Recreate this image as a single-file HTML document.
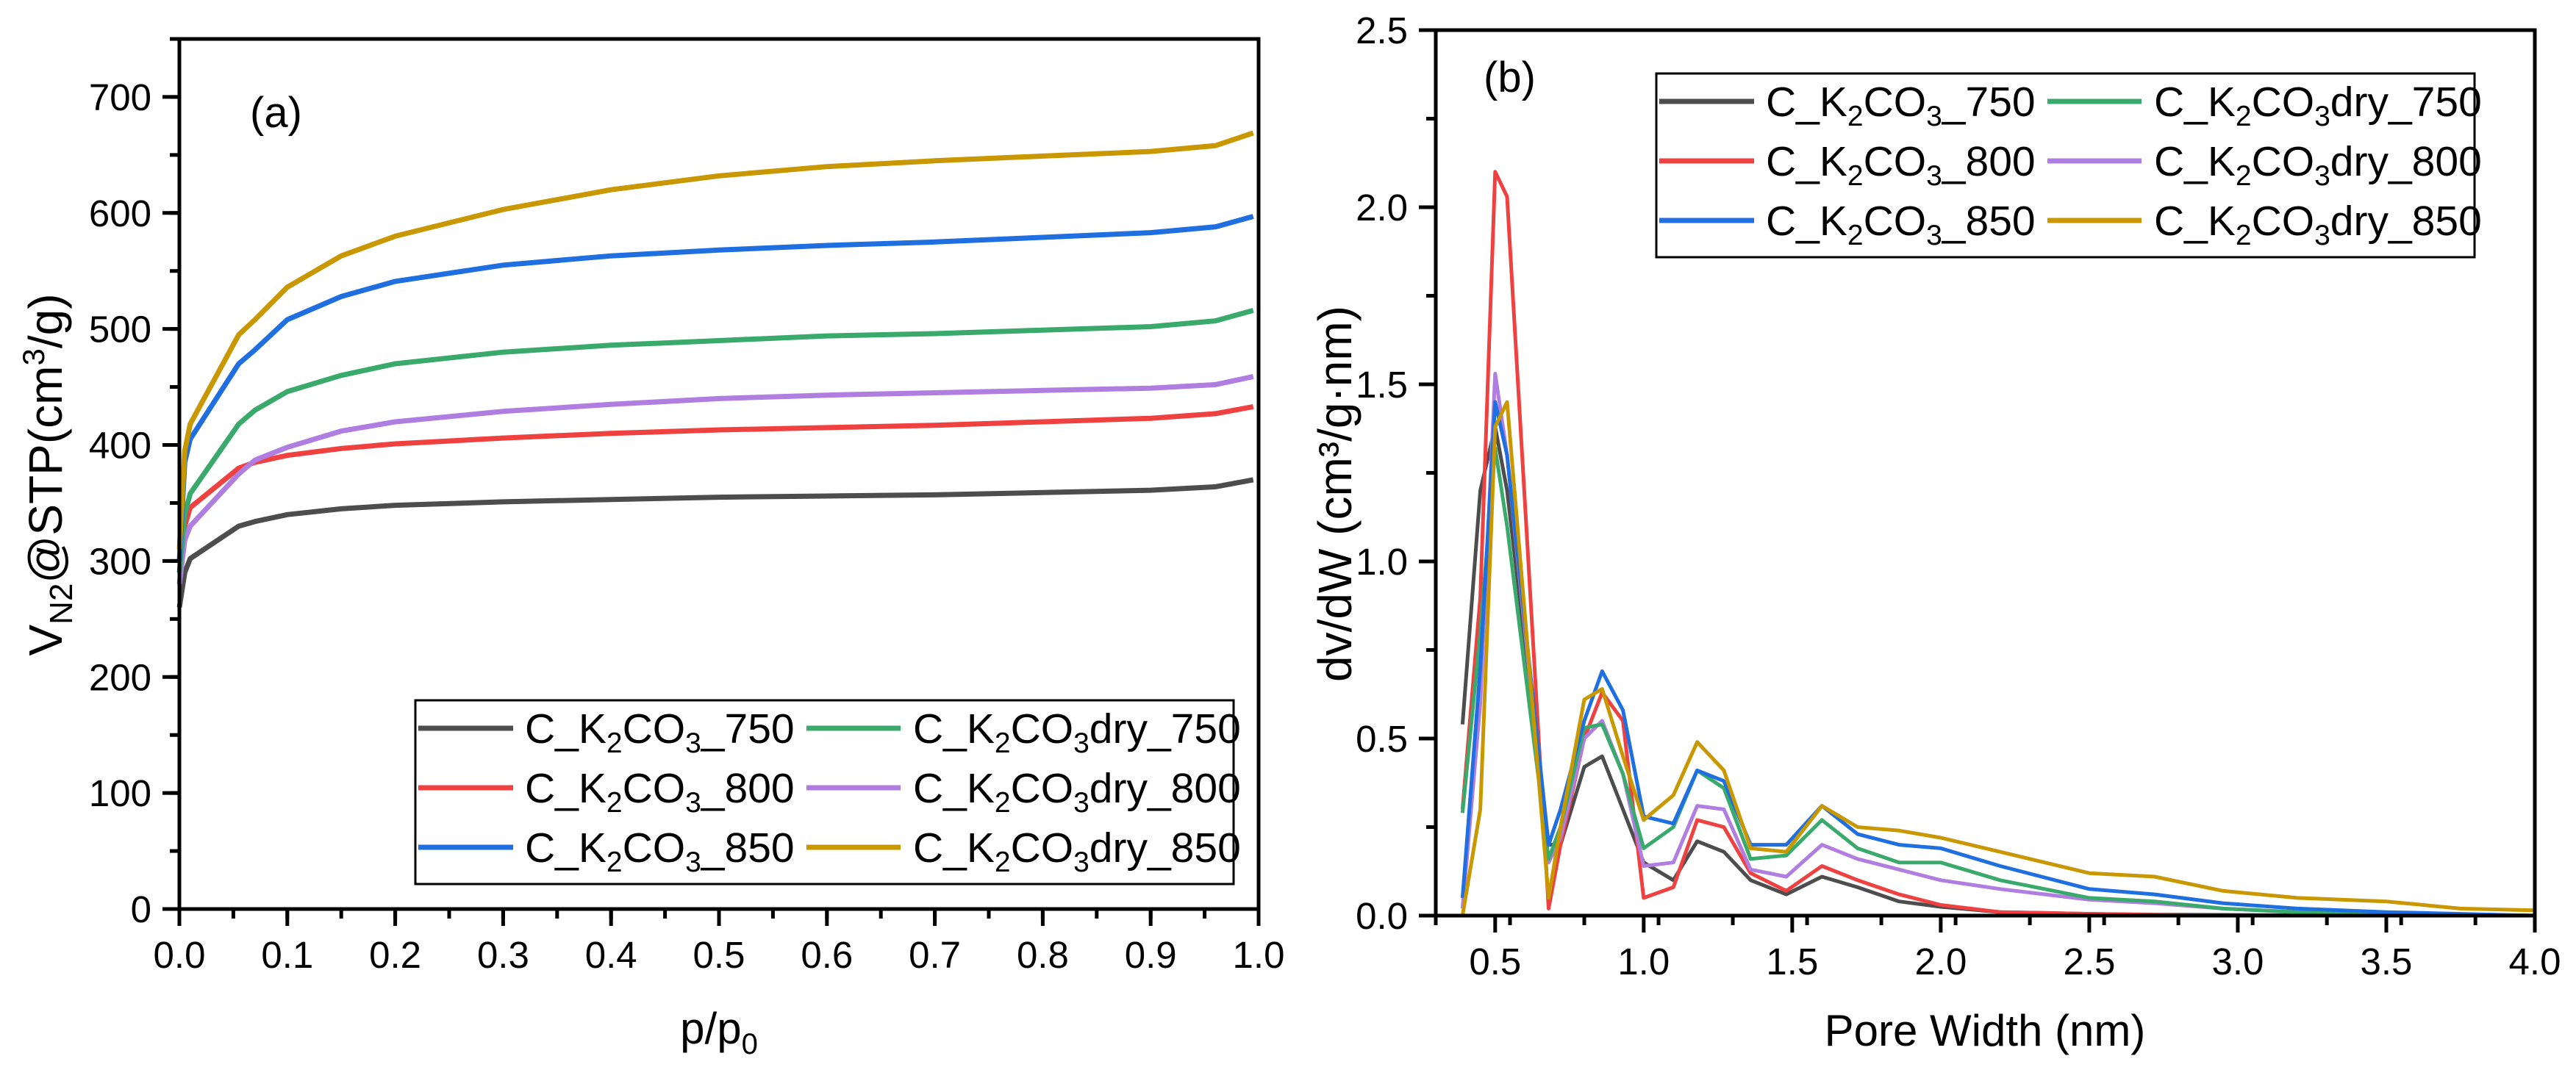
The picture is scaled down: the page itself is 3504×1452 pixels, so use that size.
<!DOCTYPE html>
<html><head><meta charset="utf-8"><style>
html,body{margin:0;padding:0;background:#fff;}
svg{display:block;font-family:"Liberation Sans",Arial,sans-serif;}
</style></head><body>
<svg id="fig" width="3504" height="1452" viewBox="0 0 3504 1452" xmlns="http://www.w3.org/2000/svg">
<rect width="3504" height="1452" fill="#fff"/>
<g id="pa"></g>
<g id="pb"></g>
</svg>
<script>
// ---------- Panel (a) data ----------
const isoP = [0,0.005,0.01,0.055,0.07,0.1,0.15,0.2,0.3,0.4,0.5,0.6,0.7,0.8,0.9,0.96,0.995];
const isoK750 = [260,290,302,330,334,340,345,348,351,353,355,356,357,359,361,364,370];
const isoK800 = [300,330,346,380,385,391,397,401,406,410,413,415,417,420,423,427,433];
const isoK850 = [300,385,405,470,482,508,528,541,555,563,568,572,575,579,583,588,597];
const isoD750 = [290,340,358,418,430,446,460,470,480,486,490,494,496,499,502,507,516];
const isoD800 = [280,318,330,375,387,398,412,420,429,435,440,443,445,447,449,452,459];
const isoD850 = [310,395,418,495,508,536,563,580,603,620,632,640,645,649,653,658,669];
const aXTicks = ["0.0","0.1","0.2","0.3","0.4","0.5","0.6","0.7","0.8","0.9","1.0"];
const aYTicks = ["0","100","200","300","400","500","600","700"];

// ---------- Panel (b) data ----------
const poreW = [0.39,0.45,0.5,0.54,0.68,0.72,0.8,0.86,0.93,1.0,1.1,1.18,1.27,1.36,1.48,1.6,1.72,1.86,2.0,2.2,2.5,2.72,2.95,3.2,3.5,3.75,4.0];
const psdK750 = [0.54,1.2,1.38,1.2,0.2,0.2,0.42,0.45,0.3,0.15,0.1,0.21,0.18,0.1,0.06,0.11,0.08,0.04,0.025,0.01,0.005,0.003,0.002,0.001,0,0,0];
const psdK800 = [0.3,0.9,2.1,2.03,0.02,0.2,0.5,0.63,0.55,0.05,0.08,0.27,0.25,0.12,0.07,0.14,0.1,0.06,0.03,0.01,0.005,0.002,0,0,0,0,0];
const psdK850 = [0.05,0.7,1.45,1.3,0.2,0.3,0.55,0.69,0.58,0.28,0.26,0.41,0.38,0.2,0.2,0.31,0.23,0.2,0.19,0.14,0.075,0.06,0.035,0.02,0.01,0.005,0.0];
const psdD750 = [0.29,0.8,1.32,1.1,0.16,0.25,0.53,0.54,0.4,0.19,0.25,0.41,0.36,0.16,0.17,0.27,0.19,0.15,0.15,0.1,0.05,0.04,0.02,0.01,0.005,0.002,0];
const psdD800 = [0.02,0.6,1.53,1.3,0.15,0.22,0.5,0.55,0.4,0.14,0.15,0.31,0.3,0.13,0.11,0.2,0.16,0.13,0.1,0.075,0.045,0.035,0.02,0.01,0.005,0.002,0];
const psdD850 = [0.0,0.3,1.38,1.45,0.05,0.25,0.61,0.64,0.45,0.27,0.34,0.49,0.41,0.19,0.18,0.31,0.25,0.24,0.22,0.18,0.12,0.11,0.07,0.05,0.04,0.02,0.015];
const bXTicks = ["0.5","1.0","1.5","2.0","2.5","3.0","3.5","4.0"];
const bYTicks = ["0.0","0.5","1.0","1.5","2.0","2.5"];

const colK750="#4d4d4d", colK800="#f04141", colK850="#1f6fe0", colD750="#39aa6b", colD800="#b07de0", colD850="#c99700";
const NS="http://www.w3.org/2000/svg";
function mk(tag, attrs, parent){const e=document.createElementNS(NS,tag);for(const k in attrs)e.setAttribute(k,attrs[k]);parent.appendChild(e);return e;}

const A={l:244,r:1712,t:53,b:1237,x0:0,x1:1,y0:0,y1:750};
const B={l:1953,r:3448,t:41,b:1246,x0:0.3,x1:4.0,y0:0,y1:2.5};
function sx(P,v){return P.l+(v-P.x0)/(P.x1-P.x0)*(P.r-P.l);}
function sy(P,v){return P.b-(v-P.y0)/(P.y1-P.y0)*(P.b-P.t);}

function drawAxes(g,P,xt,yt,xMinorStep,yMinorStep,prefix){
  const fr=mk('rect',{x:P.l,y:P.t,width:P.r-P.l,height:P.b-P.t,fill:'none',stroke:'#000','stroke-width':5},g);
  
  
  xt.forEach(s=>{const v=parseFloat(s);const x=sx(P,v);
    const t=mk('line',{x1:x,y1:P.b,x2:x,y2:P.b+23,stroke:'#000','stroke-width':5},g);
    
    
    const tx=mk('text',{x:x,y:P.b+80,'text-anchor':'middle','font-size':51,fill:'#000'},g);tx.textContent=s;
    
    
  });
  for(let v=P.x0;v<=P.x1+1e-9;v+=xMinorStep){
    const x=sx(P,v);
    const t=mk('line',{x1:x,y1:P.b,x2:x,y2:P.b+13,stroke:'#000','stroke-width':5},g);
    
    }
  yt.forEach(s=>{const v=parseFloat(s);const y=sy(P,v);
    const t=mk('line',{x1:P.l-23,y1:y,x2:P.l,y2:y,stroke:'#000','stroke-width':5},g);
    
    
    const tx=mk('text',{x:P.l-38,y:y+18,'text-anchor':'end','font-size':51,fill:'#000'},g);tx.textContent=s;
    
    
  });
  for(let v=P.y0;v<=P.y1+1e-9;v+=yMinorStep){const y=sy(P,v);
    const t=mk('line',{x1:P.l-13,y1:y,x2:P.l,y2:y,stroke:'#000','stroke-width':5},g);
    
    }
}
function series(g,P,xs,ys,col,name,w){
  const d=xs.map((x,i)=>(i?'L':'M')+sx(P,x).toFixed(1)+' '+sy(P,ys[i]).toFixed(1)).join(' ');
  const p=mk('path',{d:d,fill:'none',stroke:col,'stroke-width':w,'stroke-linejoin':'round'},g);
  
  
}
function legendLabel(g,x,y,suffix){
  const t=mk('text',{x:x,y:y,'font-size':57,fill:'#000'},g);
  t.innerHTML='C_K<tspan font-size="39" dy="13">2</tspan><tspan dy="-13">CO</tspan><tspan font-size="39" dy="13">3</tspan><tspan dy="-13">'+suffix+'</tspan>';
  return t;
}
function legend(g,L,T,prefix){
  const bx=mk('rect',{x:L,y:T,width:1113,height:250,fill:'#fff',stroke:'#000','stroke-width':3},g);
  
  
  const rows=[[colK750,'_750',colD750,'dry_750'],[colK800,'_800',colD800,'dry_800'],[colK850,'_850',colD850,'dry_850']];
  rows.forEach((r,i)=>{const cy=T+38+i*81;
    const l1=mk('line',{x1:L+4,y1:cy,x2:L+133,y2:cy,stroke:r[0],'stroke-width':7},g);
    
    
    const t1=legendLabel(g,L+149,cy+20,r[1]);
    
    
    const l2=mk('line',{x1:L+532,y1:cy,x2:L+660,y2:cy,stroke:r[2],'stroke-width':7},g);
    
    
    const t2=legendLabel(g,L+677,cy+20,r[3]);
    
    
  });
}

const ga=document.getElementById('pa');
series(ga,A,isoP,isoK750,colK750,'series-k750',7);
series(ga,A,isoP,isoK800,colK800,'series-k800',7);
series(ga,A,isoP,isoD800,colD800,'series-dry800',7);
series(ga,A,isoP,isoD750,colD750,'series-dry750',7);
series(ga,A,isoP,isoK850,colK850,'series-k850',7);
series(ga,A,isoP,isoD850,colD850,'series-dry850',7);
drawAxes(ga,A,aXTicks,aYTicks,0.05,50,'a');
legend(ga,565,953,'a');
let t=mk('text',{x:340,y:173,'font-size':58,fill:'#000'},ga);t.textContent='(a)';


t=mk('text',{x:978,y:1420,'text-anchor':'middle','font-size':60,fill:'#000'},ga);
t.innerHTML='p/p<tspan font-size="40" dy="14">0</tspan>';


t=mk('text',{x:0,y:0,'text-anchor':'middle','font-size':64,fill:'#000',transform:'translate(84,646) rotate(-90)'},ga);
t.innerHTML='V<tspan font-size="44" dy="14">N2</tspan><tspan dy="-14">@STP(cm</tspan><tspan font-size="42" dy="-24">3</tspan><tspan dy="24">/g)</tspan>';



const gb=document.getElementById('pb');
series(gb,B,poreW,psdK750,colK750,'series-k750',5);
series(gb,B,poreW,psdK800,colK800,'series-k800',5);
series(gb,B,poreW,psdD800,colD800,'series-dry800',5);
series(gb,B,poreW,psdD750,colD750,'series-dry750',5);
series(gb,B,poreW,psdK850,colK850,'series-k850',5);
series(gb,B,poreW,psdD850,colD850,'series-dry850',5);
drawAxes(gb,B,bXTicks,bYTicks,0.25,0.25,'b');
legend(gb,2253,100,'b');
t=mk('text',{x:2018,y:125,'font-size':58,fill:'#000'},gb);t.textContent='(b)';


t=mk('text',{x:2700,y:1423,'text-anchor':'middle','font-size':60,fill:'#000'},gb);t.textContent='Pore Width (nm)';


t=mk('text',{x:0,y:0,'text-anchor':'middle','font-size':64,fill:'#000',transform:'translate(1838,672) rotate(-90)'},gb);
t.textContent='dv/dW (cm³/g·nm)';


</script>
</body></html>
